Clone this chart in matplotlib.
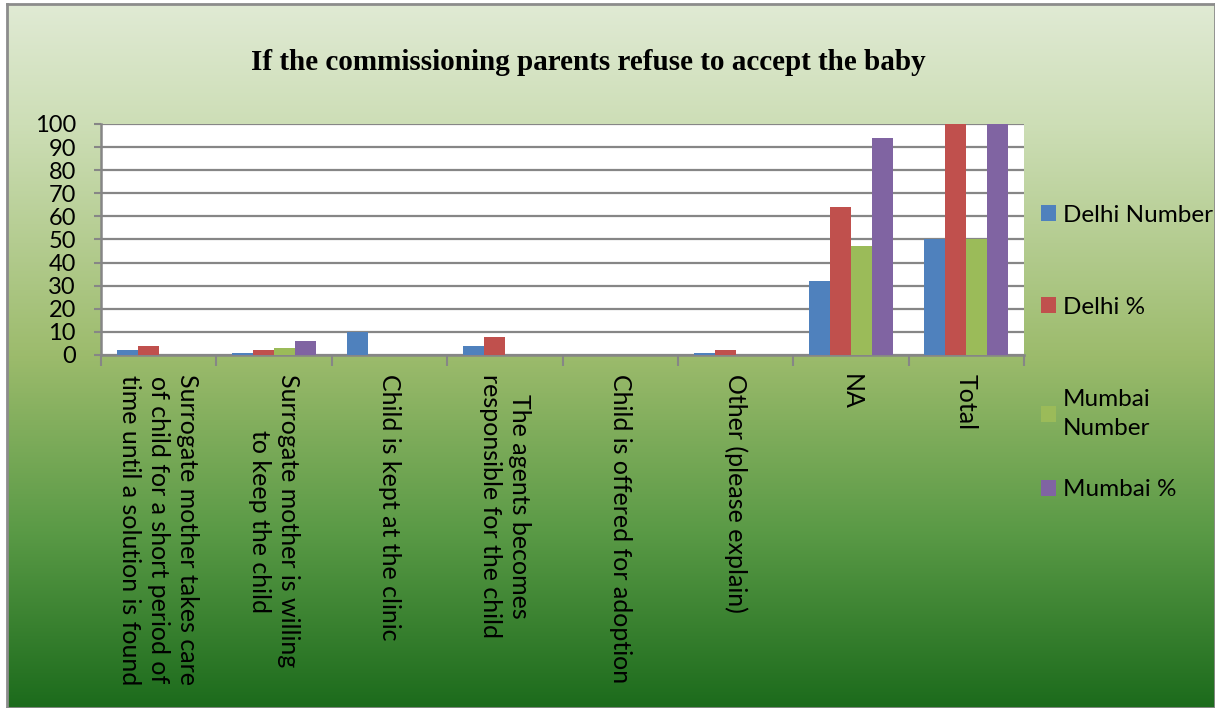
import matplotlib.pyplot as plt
import numpy as np
from matplotlib.colors import LinearSegmentedColormap

categories = [
    "Surrogate mother takes care\nof child for a short period of\ntime until a solution is found",
    "Surrogate mother is willing\nto keep the child",
    "Child is kept at the clinic",
    "The agents becomes\nresponsible for the child",
    "Child is offered for adoption",
    "Other (please explain)",
    "NA",
    "Total",
]
series_names = ["Delhi Number", "Delhi %", "Mumbai\nNumber", "Mumbai %"]
delhi_number = [2, 1, 10, 4, 0, 1, 32, 50]
delhi_pct = [4, 2, 0, 8, 0, 2, 64, 100]
mumbai_number = [0, 3, 0, 0, 0, 0, 47, 50]
mumbai_pct = [0, 6, 0, 0, 0, 0, 94, 100]
colors = ["#4f81bd", "#c0504d", "#9bbb59", "#8064a2"]

W, H = 1215, 708
fig = plt.figure(figsize=(W / 100, H / 100), dpi=100)

# gradient background of the chart area
bg = fig.add_axes([7 / W, 0, 1 - 7 / W, 1 - 4 / H], zorder=-5)
cmap = LinearSegmentedColormap.from_list(
    "bg", [(0, "#e0ead4"), (0.17, "#cddeb6"), (0.5, "#9cbb6c"), (0.75, "#5a9a46"), (1, "#1c6b1c")])
bg.imshow(np.linspace(0, 1, 256).reshape(-1, 1), aspect="auto", cmap=cmap, extent=[0, 1, 0, 1])
bg.set_xticks([])
bg.set_yticks([])
for s in bg.spines.values():
    s.set_color("#8c8c8c")
    s.set_linewidth(2)

font = "Lato"
fs = 18

ax = fig.add_axes([101 / W, 1 - 355 / H, 923 / W, 231 / H])
ax.set_facecolor("white")
x = np.arange(len(categories))
w = 0.182
all_series = [delhi_number, delhi_pct, mumbai_number, mumbai_pct]
bars = []
for i, (vals, c) in enumerate(zip(all_series, colors)):
    b = ax.bar(x + (i - 1.5) * w, vals, w, color=c, zorder=3)
    bars.append(b)

ax.set_xlim(-0.5, len(categories) - 0.5)
ax.set_ylim(0, 100)
ax.set_yticks(np.arange(0, 101, 10))
ax.yaxis.grid(True, color="#868686", linewidth=1.6, zorder=0)
ax.tick_params(axis="y", length=5, width=1.5, color="#868686", labelsize=17, pad=13)
ax.set_yticklabels([str(v) for v in range(0, 101, 10)], family=font)
ax.set_xticks(x)
ax.set_xticklabels(categories, rotation=270, ha="center", va="top",
                   multialignment="center", family=font, fontsize=fs, linespacing=1.3)
ax.set_xticks(np.arange(-0.5, len(categories)), minor=True)
ax.tick_params(axis="x", which="major", length=0, pad=14)
ax.tick_params(axis="x", which="minor", length=8, width=1.5, color="#868686")
for side in ["top", "right"]:
    ax.spines[side].set_visible(False)
for side in ["left", "bottom"]:
    ax.spines[side].set_color("#868686")
    ax.spines[side].set_linewidth(1.8)

fig.text(588 / W, 1 - 62 / H, "If the commissioning parents refuse to accept the baby",
         family="Liberation Serif", fontweight="bold", fontsize=21, ha="center", va="center")

# legend: one entry per slot, evenly spaced like the original
legend_y = [215, 307, 414, 490]
for b, name, ly in zip(bars, series_names, legend_y):
    leg = fig.legend([b], [name], loc="center left", bbox_to_anchor=(1041 / W, 1 - ly / H),
                     frameon=False, prop={"family": font, "size": 17.5}, handlelength=0.6,
                     handleheight=0.6, handletextpad=0.3, borderpad=0, borderaxespad=0)
    leg.get_texts()[0].set_linespacing(1.45)

fig.savefig("out.png", dpi=100)
